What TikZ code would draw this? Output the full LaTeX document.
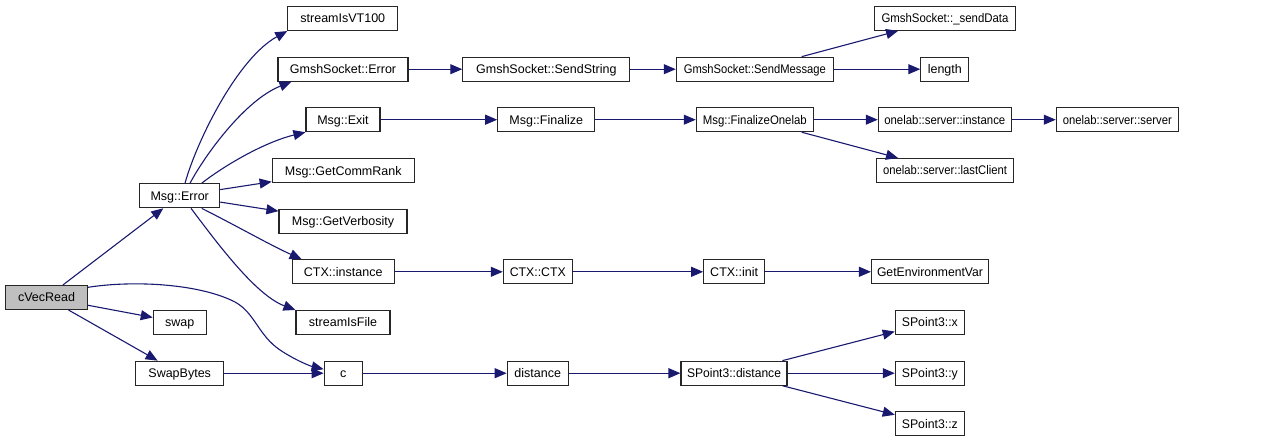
\documentclass[tikz,border=0pt]{standalone}
\usepackage{fontspec}
\usepackage{graphicx}
\setmainfont{Liberation Sans}
\usetikzlibrary{arrows.meta,calc}
\definecolor{navy}{HTML}{191970}
\definecolor{greyfill}{HTML}{BFBFBF}
\newlength\labw
\newcommand\fitlab[2]{\settowidth\labw{#2}\ifdim\labw>#1\relax\resizebox{#1}{\height}{#2}\else#2\fi}
\begin{document}
\begin{tikzpicture}[x=1pt,y=-1pt,
  box/.style={draw=black!85, line width=1.1pt, fill=white, minimum height=24pt, inner sep=0pt, text height=10pt, text depth=1pt, font=\fontsize{12.5}{14}\selectfont},
  e/.style={draw=navy, line width=1.1pt, -{Triangle[length=12pt,width=10pt]}}]
\useasboundingbox (0,0) rectangle (1277,443);
% nodes
\node[box, minimum width=82pt, fill=greyfill] (cv) at (46.5,297.5) {\fitlab{68pt}{cVecRead}};
\node[box, minimum width=80pt] (err) at (179.7,195.8) {\fitlab{66pt}{Msg::Error}};
\node[box, minimum width=53pt] (swap) at (179.8,322.5) {\fitlab{39pt}{swap}};
\node[box, minimum width=88pt] (swapb) at (179.7,373.2) {\fitlab{74pt}{SwapBytes}};
\node[box, minimum width=38pt] (c) at (343.2,373.2) {c};
\node[box, minimum width=94pt] (sif) at (343,322.5) {\fitlab{80pt}{streamIsFile}};
\node[box, minimum width=102pt] (ctxi) at (343.2,271.8) {\fitlab{88pt}{CTX::instance}};
\node[box, minimum width=128pt] (verb) at (343,221.2) {\fitlab{114pt}{Msg::GetVerbosity}};
\node[box, minimum width=142pt] (rank) at (343.2,170.8) {\fitlab{128pt}{Msg::GetCommRank}};
\node[box, minimum width=74pt] (exit) at (343,119.7) {\fitlab{60pt}{Msg::Exit}};
\node[box, minimum width=130pt] (gerr) at (343,69.2) {\fitlab{116pt}{GmshSocket::Error}};
\node[box, minimum width=110pt] (vt) at (342.8,18.5) {\fitlab{96pt}{streamIsVT100}};
\node[box, minimum width=167pt] (sstr) at (546.3,69.2) {\fitlab{153pt}{GmshSocket::SendString}};
\node[box, minimum width=97pt] (fin) at (546.2,119.7) {\fitlab{83pt}{Msg::Finalize}};
\node[box, minimum width=157pt] (smsg) at (754.8,69.2) {\fitlab{142pt}{GmshSocket::SendMessage}};
\node[box, minimum width=141pt] (sdata) at (945,18.3) {\fitlab{127pt}{GmshSocket::\_sendData}};
\node[box, minimum width=48pt] (len) at (944.8,69.2) {\fitlab{38pt}{length}};
\node[box, minimum width=117pt] (fon) at (754.8,119.7) {\fitlab{104pt}{Msg::FinalizeOnelab}};
\node[box, minimum width=133pt] (osi) at (944.8,119.7) {\fitlab{121pt}{onelab::server::instance}};
\node[box, minimum width=122pt] (oss) at (1117.3,119.7) {\fitlab{109pt}{onelab::server::server}};
\node[box, minimum width=137pt] (olc) at (945,170.5) {\fitlab{124pt}{onelab::server::lastClient}};
\node[box, minimum width=69pt] (ctx) at (537.8,271.8) {\fitlab{56pt}{CTX::CTX}};
\node[box, minimum width=61pt] (init) at (734.2,271.8) {\fitlab{48pt}{CTX::init}};
\node[box, minimum width=117pt] (genv) at (930,271.8) {\fitlab{106pt}{GetEnvironmentVar}};
\node[box, minimum width=61pt] (dist) at (537.7,373.2) {\fitlab{48pt}{distance}};
\node[box, minimum width=106pt] (spd) at (734,373.2) {\fitlab{94pt}{SPoint3::distance}};
\node[box, minimum width=69pt] (spx) at (929.8,322.5) {\fitlab{56pt}{SPoint3::x}};
\node[box, minimum width=69pt] (spy) at (929.8,373.2) {\fitlab{56pt}{SPoint3::y}};
\node[box, minimum width=69pt] (spz) at (929.8,423.8) {\fitlab{56pt}{SPoint3::z}};
% edges from cVecRead
\draw[e] (cv) -- (err);
\draw[e] (cv) -- (swap);
\draw[e] (cv) -- (swapb);
\draw[e] ($(cv.east)+(0,-10.2)$) .. controls (135,280) and (200,284) .. (235,302)
   .. controls (255,313) and (258,335) .. (280,350)
   .. controls (295,360) and (310,366) .. ($(c.west)+(0,-4)$);
\draw[e] (swapb) -- (c);
% edges from Msg::Error
\draw[e] ($(err.north)+(5.3,0)$) .. controls (197,140) and (238,58) .. (vt.south west);
\draw[e] ($(err.north)+(10.3,0)$) .. controls (205,155) and (245,100) .. ($(gerr.south west)+(14,0)$);
\draw[e] ($(err.north)+(22,0)$) .. controls (225,165) and (265,142) .. (exit.south west);
\draw[e] (err) -- (rank);
\draw[e] (err) -- (verb);
\draw[e] ($(err.south)+(22,0)$) .. controls (235,225) and (270,245) .. ($(ctxi.north west)+(10,0)$);
\draw[e] ($(err.south)+(11.3,0)$) .. controls (215,240) and (255,295) .. (sif.north west);
% chains
\draw[e] (gerr) -- (sstr);
\draw[e] (sstr) -- (smsg);
\draw[e] (smsg) -- (sdata);
\draw[e] (smsg) -- (len);
\draw[e] (exit) -- (fin);
\draw[e] (fin) -- (fon);
\draw[e] (fon) -- (osi);
\draw[e] (osi) -- (oss);
\draw[e] (fon) -- (olc);
\draw[e] (ctxi) -- (ctx);
\draw[e] (ctx) -- (init);
\draw[e] (init) -- (genv);
\draw[e] (c) -- (dist);
\draw[e] (dist) -- (spd);
\draw[e] (spd) -- (spx);
\draw[e] (spd) -- (spy);
\draw[e] (spd) -- (spz);
\end{tikzpicture}
\end{document}
